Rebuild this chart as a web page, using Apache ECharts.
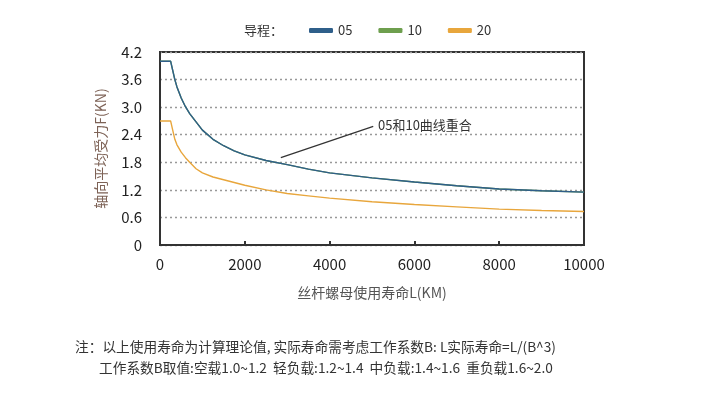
<!DOCTYPE html>
<html>
<head>
<meta charset="utf-8">
<script src="https://cdn.jsdelivr.net/npm/echarts@6/dist/echarts.min.js"></script>
<style>
  html, body { margin: 0; padding: 0; background: #fff; }
  #main { width: 728px; height: 396px; }
</style>
</head>
<body>
<div id="main"></div>
<script>
// 丝杆螺母寿命 - 轴向平均受力曲线
var lifeKm = [0, 250, 300, 350, 400, 500, 600, 700, 850, 1000, 1250, 1500, 1750, 2000, 2500, 3000, 3500, 4000, 5000, 6000, 7000, 8000, 9000, 10000];
var force05 = [4.0, 4.0, 3.80, 3.60, 3.44, 3.20, 3.01, 2.86, 2.68, 2.50, 2.30, 2.16, 2.05, 1.96, 1.84, 1.75, 1.65, 1.57, 1.46, 1.37, 1.29, 1.22, 1.18, 1.15];
var force10 = [4.0, 4.0, 3.80, 3.60, 3.44, 3.20, 3.01, 2.86, 2.68, 2.50, 2.30, 2.16, 2.05, 1.96, 1.84, 1.75, 1.65, 1.57, 1.46, 1.37, 1.29, 1.22, 1.18, 1.15];
var force20 = [2.7, 2.7, 2.50, 2.30, 2.18, 2.02, 1.90, 1.80, 1.66, 1.57, 1.48, 1.42, 1.36, 1.30, 1.20, 1.12, 1.07, 1.02, 0.94, 0.88, 0.83, 0.78, 0.75, 0.73];
var leadNames = ['05', '10', '20'];
var yTicks = [0, 0.6, 1.2, 1.8, 2.4, 3.0, 3.6, 4.2];
var xTicks = [0, 2000, 4000, 6000, 8000, 10000];

function pairs(xs, ys) {
    return xs.map(function (x, i) { return [x, ys[i]]; });
}

var font = '"Noto Sans CJK SC", "Noto Sans", sans-serif';
var colors = ['#2f5f8a', '#6e9f4e', '#e8a63c'];

var myChart = echarts.init(document.getElementById('main'));
var option = {
    animation: false,
    color: colors,
    textStyle: { fontFamily: font },
    grid: {
        left: 160, right: 144, top: 52, bottom: 151,
        show: true, borderColor: '#333', borderWidth: 2
    },
    legend: {
        left: 304, top: 19,
        icon: 'roundRect',
        itemWidth: 24, itemHeight: 5,
        itemGap: 26,
        textStyle: { fontSize: 13, color: '#333', fontFamily: font },
        data: leadNames
    },
    xAxis: {
        type: 'value',
        min: xTicks[0], max: xTicks[xTicks.length - 1], interval: 2000,
        name: '丝杆螺母使用寿命L(KM)',
        nameLocation: 'middle', nameGap: 41,
        nameTextStyle: { fontSize: 14, color: '#555', fontFamily: font },
        axisLine: { show: true, lineStyle: { color: '#333', width: 2 } },
        axisTick: { show: true, inside: true, length: 4, lineStyle: { color: '#333', width: 2 } },
        axisLabel: {
            fontSize: 15, color: '#222', margin: 12, fontFamily: font,
            formatter: function (v) { return String(v); }
        },
        splitLine: { show: false }
    },
    yAxis: {
        type: 'value',
        min: yTicks[0], max: yTicks[yTicks.length - 1], interval: 0.6,
        name: '轴向平均受力F(KN)',
        nameLocation: 'middle', nameGap: 52,
        nameTextStyle: { fontSize: 14, color: '#7d6256', fontFamily: font },
        axisLine: { show: true, lineStyle: { color: '#333', width: 2 } },
        axisTick: { show: false },
        axisLabel: {
            fontSize: 15, color: '#222', margin: 18, fontFamily: font,
            formatter: function (v) { return v === 0 ? '0' : v.toFixed(1); }
        },
        splitLine: { show: true, lineStyle: { color: '#999', type: [2, 3], width: 1.3 } }
    },
    series: [
        {
            name: '05', type: 'line', z: 4, symbol: 'none', smooth: false,
            lineStyle: { width: 1.4, color: colors[0] },
            data: pairs(lifeKm, force05),
            markLine: {
                silent: true, symbol: 'none',
                lineStyle: { color: '#333', width: 1.2, type: 'solid' },
                label: {
                    show: true, position: 'end', distance: 5,
                    formatter: '05和10曲线重合',
                    fontSize: 13, color: '#333', fontFamily: font
                },
                data: [[{ coord: [2850, 1.90] }, { coord: [5030, 2.58] }]]
            }
        },
        {
            name: '10', type: 'line', z: 3, symbol: 'none', smooth: false,
            lineStyle: { width: 1.4, color: colors[1] },
            data: pairs(lifeKm, force10)
        },
        {
            name: '20', type: 'line', z: 3, symbol: 'none', smooth: false,
            lineStyle: { width: 1.4, color: colors[2] },
            data: pairs(lifeKm, force20)
        }
    ],
    graphic: [
        {
            type: 'text', left: 244, top: 24,
            style: { text: '导程：', fontSize: 13, fill: '#333', fontFamily: font }
        },
        {
            type: 'text', left: 75, top: 340,
            style: { text: '注：以上使用寿命为计算理论值, 实际寿命需考虑工作系数B: L实际寿命=L/(B^3)', fontSize: 13.7, fill: '#333', fontFamily: font }
        },
        {
            type: 'text', left: 99, top: 361,
            style: { text: '工作系数B取值:空载1.0~1.2  轻负载:1.2~1.4  中负载:1.4~1.6  重负载1.6~2.0', fontSize: 13.7, fill: '#333', fontFamily: font }
        }
    ]
};
myChart.setOption(option);
</script>
</body>
</html>
